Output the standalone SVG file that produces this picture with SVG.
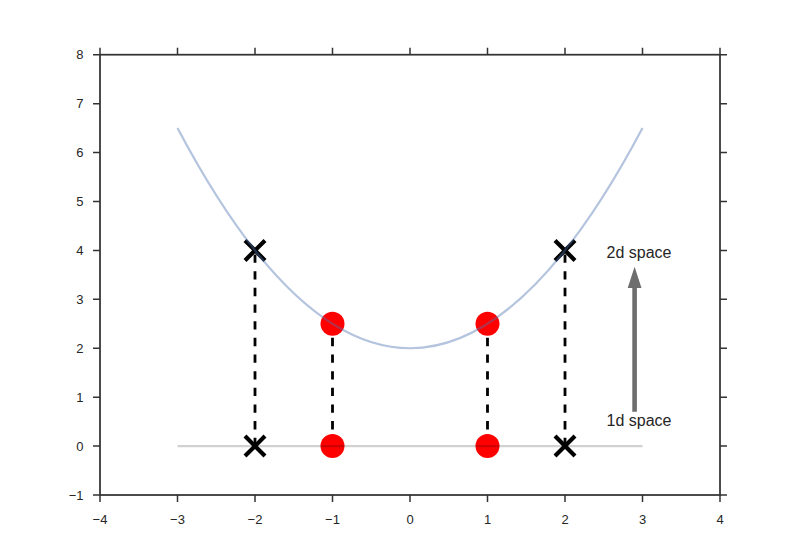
<svg xmlns="http://www.w3.org/2000/svg" width="800" height="550" viewBox="0 0 800 550">
<style>
.spine{fill:none;stroke:#333333;stroke-width:1.75;stroke-linecap:square}
.tick{stroke:#333333;stroke-width:1.5}
.tl{font-family:"Liberation Sans",Arial,sans-serif;font-size:13px;fill:#262626}
.ann{font-family:"Liberation Sans",Arial,sans-serif;font-size:16px;fill:#262626;text-anchor:middle}
.dash{stroke:#000;stroke-width:2.8;stroke-dasharray:8.33 8.33;fill:none}
.xm{stroke:#000;stroke-width:4.2;fill:none}
.dot{fill:#ff0000}
</style>
<rect width="800" height="550" fill="#ffffff"/>
<g id="axes">
<rect class="spine" x="100" y="54.7" width="620" height="440.3"/>
</g>
<g id="ticks">
<path class="tick" d="M100 495V502M177.5 495V502M255 495V502M332.5 495V502M410 495V502M487.5 495V502M565 495V502M642.5 495V502M720 495V502"/>
<path class="tick" d="M100 54.7V47.7M177.5 54.7V47.7M255 54.7V47.7M332.5 54.7V47.7M410 54.7V47.7M487.5 54.7V47.7M565 54.7V47.7M642.5 54.7V47.7M720 54.7V47.7"/>
<path class="tick" d="M93 54.7H100M93 103.7H100M93 152.6H100M93 201.5H100M93 250.4H100M93 299.3H100M93 348.3H100M93 397.2H100M93 446.1H100M93 495H100"/>
<path class="tick" d="M720 54.7H727M720 103.7H727M720 152.6H727M720 201.5H727M720 250.4H727M720 299.3H727M720 348.3H727M720 397.2H727M720 446.1H727M720 495H727"/>
<g class="tl" text-anchor="middle">
<text x="100" y="524">−4</text>
<text x="177.5" y="524">−3</text>
<text x="255" y="524">−2</text>
<text x="332.5" y="524">−1</text>
<text x="410" y="524">0</text>
<text x="487.5" y="524">1</text>
<text x="565" y="524">2</text>
<text x="642.5" y="524">3</text>
<text x="720" y="524">4</text>
</g>
<g class="tl" text-anchor="end">
<text x="83.5" y="59.4">8</text>
<text x="83.5" y="108.4">7</text>
<text x="83.5" y="157.3">6</text>
<text x="83.5" y="206.2">5</text>
<text x="83.5" y="255.1">4</text>
<text x="83.5" y="304">3</text>
<text x="83.5" y="353">2</text>
<text x="83.5" y="401.9">1</text>
<text x="83.5" y="450.8">0</text>
<text x="83.5" y="499.7">−1</text>
</g>
</g>
<g id="connectors">
<path class="dash" d="M255 446.1V250.4"/>
<path class="dash" d="M332.5 446.1V323.8"/>
<path class="dash" d="M487.5 446.1V323.8"/>
<path class="dash" d="M565 446.1V250.4"/>
</g>
<g id="markers">
<g id="x-m2-2d"><path class="xm" d="M245 240.4L265 260.4M245 260.4L265 240.4"/></g>
<g id="x-p2-2d"><path class="xm" d="M555 240.4L575 260.4M555 260.4L575 240.4"/></g>
<g id="x-m2-1d"><path class="xm" d="M245 436.1L265 456.1M245 456.1L265 436.1"/></g>
<g id="x-p2-1d"><path class="xm" d="M555 436.1L575 456.1M555 456.1L575 436.1"/></g>
<g id="o-m1-2d"><circle class="dot" cx="332.5" cy="323.8" r="12"/></g>
<g id="o-p1-2d"><circle class="dot" cx="487.5" cy="323.8" r="12"/></g>
<g id="o-m1-1d"><circle class="dot" cx="332.5" cy="446.1" r="12"/></g>
<g id="o-p1-1d"><circle class="dot" cx="487.5" cy="446.1" r="12"/></g>
</g>
<g id="lines">
<path d="M177.5 128.1Q410 568.4 642.5 128.1" fill="none" stroke="#4c72b0" stroke-opacity="0.42" stroke-width="2.2"/>
<path d="M177.5 446.1H642.5" fill="none" stroke="#000" stroke-opacity="0.18" stroke-width="2.2"/>
</g>
<g id="annotation">
<path d="M632.3 411.7V288H627.7L634.6 266.7L641.5 288H636.9V411.7Z" fill="#6e6e6e"/>
<text class="ann" x="639" y="258.3">2d space</text>
<text class="ann" x="639" y="426.3">1d space</text>
</g>
</svg>
